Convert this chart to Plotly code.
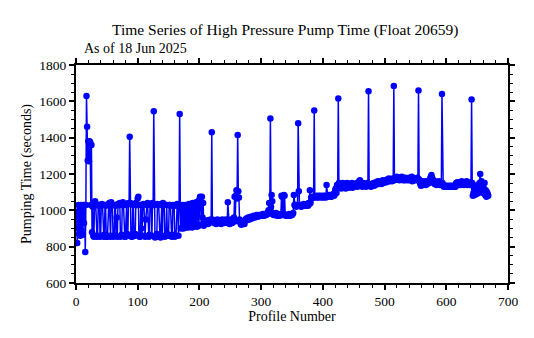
import plotly.graph_objects as go

# High pressure pump time per profile, float 20659
pump_time_s = [
    990, 820, 905, 1030, 870, 1010, 860, 1030, 890, 1025,
    865, 1030, 930, 1030, 770, 1030, 1630, 1460, 1275, 1380,
    1270, 1380, 1375, 1030, 1360, 880, 1020, 860, 855, 1040,
    1050, 1030, 860, 855, 860, 1030, 1025, 1030, 855, 860,
    1030, 1035, 1030, 860, 855, 865, 1030, 1025, 855, 860,
    855, 1030, 1035, 1040, 860, 855, 1045, 1030, 1030, 860,
    855, 860, 1030, 1025, 860, 960, 855, 1035, 1030, 1030,
    1040, 855, 860, 865, 1030, 1045, 1030, 860, 855, 855,
    1030, 1030, 870, 860, 1040, 1035, 1405, 1040, 860, 855,
    855, 1035, 1030, 860, 860, 870, 1040, 1030, 1030, 1065,
    1075, 860, 855, 855, 1030, 900, 860, 1030, 1035, 1030,
    860, 855, 950, 1030, 1030, 1040, 860, 855, 865, 1035,
    1030, 1030, 860, 1040, 1030, 1545, 1030, 850, 860, 855,
    870, 1035, 1030, 1030, 860, 855, 850, 1030, 1035, 860,
    1040, 1035, 1030, 855, 860, 860, 1030, 870, 860, 860,
    1030, 1030, 1025, 860, 855, 865, 1030, 1025, 1025, 855,
    860, 860, 1030, 1035, 1025, 860, 1030, 1530, 1030, 900,
    1020, 905, 1030, 900, 1025, 910, 1030, 905, 1020, 910,
    1030, 905, 1035, 910, 1030, 915, 1035, 905, 1040, 910,
    1035, 915, 1040, 920, 1045, 910, 1040, 1050, 915, 1060,
    1075, 1070, 920, 1075, 960, 1040, 915, 930, 925, 940,
    935, 930, 945, 925, 930, 940, 935, 950, 940, 1430,
    950, 935, 940, 930, 945, 935, 925, 940, 950, 930,
    935, 945, 940, 930, 925, 940, 950, 935, 945, 930,
    935, 940, 950, 945, 930, 1045, 940, 935, 925, 945,
    950, 940, 930, 935, 945, 960, 1075, 940, 1080, 1110,
    1065, 1415, 1105, 1070, 950, 935, 925, 920, 935, 930,
    940, 935, 925, 945, 950, 955, 945, 950, 960, 955,
    950, 960, 965, 960, 955, 965, 960, 970, 965, 960,
    965, 970, 975, 970, 965, 975, 970, 975, 970, 975,
    975, 970, 980, 975, 970, 975, 980, 975, 980, 985,
    980, 1000, 1040, 1000, 1505, 1020, 1085, 1050, 980, 975,
    980, 975, 980, 985, 975, 970, 975, 980, 975, 970,
    975, 980, 1080, 1075, 975, 980, 1085, 1080, 975, 970,
    975, 970, 975, 970, 980, 975, 970, 975, 980, 975,
    980, 985, 1085, 1030, 1025, 1030, 1020, 1030, 1030, 1480,
    1105, 1030, 1025, 1030, 1020, 1025, 1030, 1025, 1035, 1025,
    1030, 1025, 1030, 1035, 1030, 1025, 1040, 1035, 1110, 1040,
    1070, 1065, 1075, 1070, 1075, 1550, 1075, 1070, 1080, 1075,
    1070, 1075, 1080, 1070, 1075, 1080, 1075, 1070, 1075, 1080,
    1070, 1075, 1080, 1075, 1070, 1140, 1080, 1075, 1080, 1085,
    1075, 1080, 1085, 1075, 1080, 1085, 1090, 1080, 1085, 1110,
    1120, 1095, 1140, 1120, 1615, 1150, 1125, 1140, 1130, 1120,
    1135, 1150, 1125, 1140, 1130, 1145, 1120, 1135, 1150, 1130,
    1140, 1125, 1135, 1145, 1130, 1140, 1150, 1125, 1135, 1140,
    1130, 1145, 1135, 1140, 1150, 1130, 1140, 1135, 1160, 1165,
    1145, 1135, 1140, 1130, 1150, 1135, 1140, 1145, 1135, 1130,
    1140, 1150, 1140, 1655, 1145, 1135, 1140, 1130, 1145, 1135,
    1140, 1150, 1135, 1145, 1140, 1155, 1150, 1145, 1160, 1150,
    1145, 1155, 1150, 1160, 1145, 1155, 1165, 1150, 1160, 1155,
    1160, 1165, 1155, 1170, 1160, 1165, 1175, 1160, 1170, 1165,
    1170, 1160, 1175, 1165, 1685, 1165, 1170, 1180, 1175, 1185,
    1170, 1180, 1175, 1165, 1180, 1170, 1175, 1185, 1170, 1165,
    1175, 1170, 1165, 1180, 1175, 1170, 1165, 1175, 1170, 1180,
    1165, 1175, 1170, 1185, 1160, 1175, 1170, 1165, 1175, 1170,
    1165, 1175, 1180, 1175, 1660, 1170, 1155, 1145, 1135, 1150,
    1160, 1140, 1155, 1145, 1150, 1160, 1140, 1150, 1145, 1155,
    1160, 1150, 1165, 1175, 1185, 1195, 1180, 1170, 1155, 1150,
    1145, 1160, 1150, 1140, 1155, 1145, 1150, 1160, 1140, 1150,
    1145, 1150, 1640, 1150, 1135, 1130, 1135, 1130, 1135, 1130,
    1130, 1135, 1130, 1130, 1135, 1130, 1130, 1135, 1130, 1130,
    1135, 1130, 1130, 1135, 1130, 1150, 1145, 1155, 1140, 1150,
    1155, 1145, 1140, 1150, 1160, 1145, 1155, 1150, 1140, 1155,
    1145, 1150, 1160, 1140, 1155, 1145, 1150, 1140, 1155, 1150,
    1610, 1150, 1080, 1095, 1120, 1085, 1100, 1130, 1090, 1110,
    1140, 1095, 1120, 1150, 1200, 1130, 1160, 1110, 1140, 1095,
    1120, 1150, 1085, 1110, 1075, 1100, 1090, 1080,
]
profile_number = list(range(1, len(pump_time_s) + 1))

title_text = "Time Series of High Pressure Pump Time (Float 20659)"
subtitle_text = "As of 18 Jun 2025"
x_label = "Profile Number"
y_label = "Pumping Time (seconds)"

FONT = "Liberation Serif, Times New Roman, serif"
BLUE = "#0000FF"

fig = go.Figure(
    go.Scatter(
        x=profile_number,
        y=pump_time_s,
        mode="lines+markers",
        line=dict(color=BLUE, width=1.5),
        marker=dict(color=BLUE, size=6.5),
        showlegend=False,
    )
)

axis_common = dict(
    showline=True,
    linecolor="black",
    linewidth=2,
    mirror="allticks",
    ticks="outside",
    ticklen=5,
    tickwidth=1.5,
    tickcolor="black",
    showgrid=False,
    zeroline=False,
    tickfont=dict(family=FONT, size=13.5, color="black"),
)

fig.update_xaxes(
    range=[0, 700],
    dtick=100,
    tick0=0,
    minor=dict(dtick=20, ticks="outside", ticklen=3, tickcolor="black", tickwidth=1),
    title=dict(text=x_label, font=dict(family=FONT, size=14, color="black"), standoff=2),
    **axis_common,
)
fig.update_yaxes(
    range=[600, 1800],
    dtick=200,
    tick0=600,
    minor=dict(dtick=50, ticks="outside", ticklen=3, tickcolor="black", tickwidth=1),
    title=dict(text=y_label, font=dict(family=FONT, size=14, color="black"), standoff=4),
    **axis_common,
)

fig.update_layout(
    width=534,
    height=338,
    margin=dict(l=76, r=26, t=65, b=55),
    paper_bgcolor="white",
    plot_bgcolor="white",
    font=dict(family=FONT, color="black"),
    annotations=[
        dict(
            text=title_text,
            xref="paper", yref="paper",
            x=0.484, y=1.0, yshift=35,
            xanchor="center", yanchor="middle",
            showarrow=False,
            font=dict(family=FONT, size=15.5, color="black"),
        ),
        dict(
            text=subtitle_text,
            xref="paper", yref="paper",
            x=0.014, y=1.0, yshift=17,
            xanchor="left", yanchor="middle",
            showarrow=False,
            font=dict(family=FONT, size=14, color="black"),
        ),
    ],
)

fig.write_html("out.html")
